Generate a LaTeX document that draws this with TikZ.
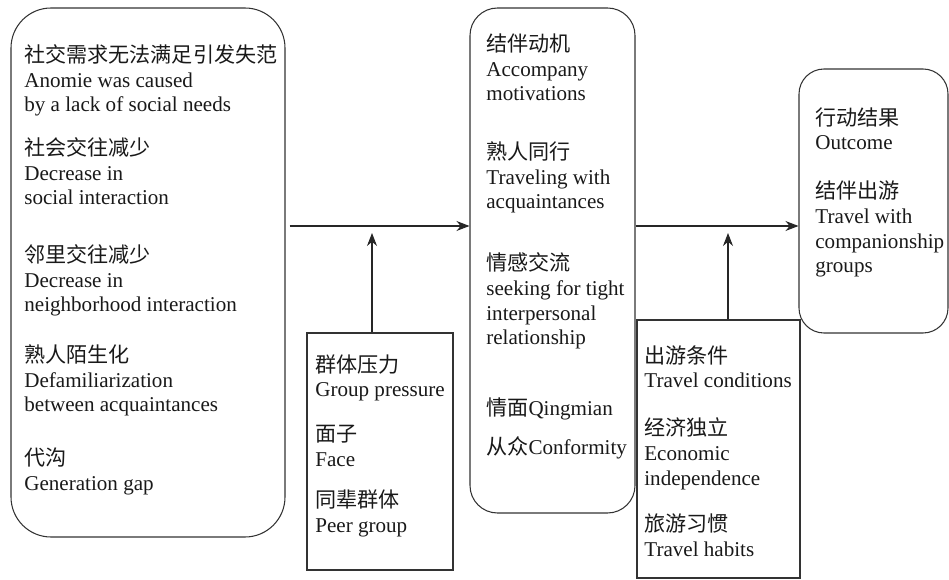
\documentclass[tikz,border=0pt]{standalone}
\usepackage{fontspec}
\setmainfont{Liberation Serif}
\newfontfamily\zhfont{Noto Sans CJK SC}
\newcommand{\zh}[1]{{\zhfont #1}}
\usetikzlibrary{arrows.meta,fit}

\tikzset{
  softbox/.style={draw=black!80, line width=0.6pt, rounded corners=#1, inner sep=0pt},
  hardbox/.style={draw=black!80, line width=0.6pt, inner sep=0pt},
  txt/.style={anchor=base west, align=left, inner sep=0pt, text=black!90,
    font=\fontsize{12pt}{14.2pt}\selectfont},
  arr/.style={draw=black!85, line width=0.6pt, -{Stealth[length=0.26cm,width=0.2cm]}}
}

\begin{document}
\begin{tikzpicture}[x=0.02cm, y=-0.02cm]
    \useasboundingbox (0,0) rectangle (949,580);

    % Cajas
    \node[softbox=0.8cm, fit={(11,8) (285,537)}] (causes) {};
    \node[softbox=0.55cm, fit={(470,8) (635,513)}] (motive) {};
    \node[softbox=0.5cm, fit={(799,69) (948,333)}] (outcome) {};
    \node[hardbox, fit={(307,333) (453,570)}] (pressure) {};
    \node[hardbox, fit={(637,320) (800,578)}] (cond) {};

    % Causas (y = baseline of last line)
    \node[txt] (c1) at (24,112) {\zh{社交需求无法满足引发失范}\\Anomie was caused\\by a lack of social needs};
    \node[txt] (c2) at (24,205) {\zh{社会交往减少}\\Decrease in\\social interaction};
    \node[txt] (c3) at (24,312) {\zh{邻里交往减少}\\Decrease in\\neighborhood interaction};
    \node[txt] (c4) at (24,412) {\zh{熟人陌生化}\\Defamiliarization\\between acquaintances};
    \node[txt] (c5) at (24,490) {\zh{代沟}\\Generation gap};

    % Motivos
    \node[txt] (m1) at (486,101) {\zh{结伴动机}\\Accompany\\motivations};
    \node[txt] (m2) at (486,209) {\zh{熟人同行}\\Traveling with\\acquaintances};
    \node[txt] (m3) at (486,345) {\zh{情感交流}\\seeking for tight\\interpersonal\\relationship};
    \node[txt] (m4) at (486,416) {\zh{情面}Qingmian};
    \node[txt] (m5) at (486,454) {\zh{从众}Conformity};

    % Resultado
    \node[txt] (o1) at (815,150) {\zh{行动结果}\\Outcome};
    \node[txt] (o2) at (815,273) {\zh{结伴出游}\\Travel with\\companionship\\groups};

    % Presion de grupo
    \node[txt] (p1) at (315,397) {\zh{群体压力}\\Group pressure};
    \node[txt] (p2) at (315,466) {\zh{面子}\\Face};
    \node[txt] (p3) at (315,532) {\zh{同辈群体}\\Peer group};

    % Condiciones
    \node[txt] (d1) at (644,388) {\zh{出游条件}\\Travel conditions};
    \node[txt] (d2) at (644,485) {\zh{经济独立}\\Economic\\independence};
    \node[txt] (d3) at (644,556) {\zh{旅游习惯}\\Travel habits};

    % Flechas
    \coordinate (h) at (0,226);
    \coordinate (j1) at (372,233);
    \coordinate (j2) at (728,233);
    \draw[arr, shorten <=0.08cm] (causes.east |- h) -- (motive.west |- h);
    \draw[arr] (motive.east |- h) -- (outcome.west |- h);
    \draw[arr] (pressure.north -| j1) -- (j1);
    \draw[arr] (cond.north -| j2) -- (j2);
\end{tikzpicture}
\end{document}
